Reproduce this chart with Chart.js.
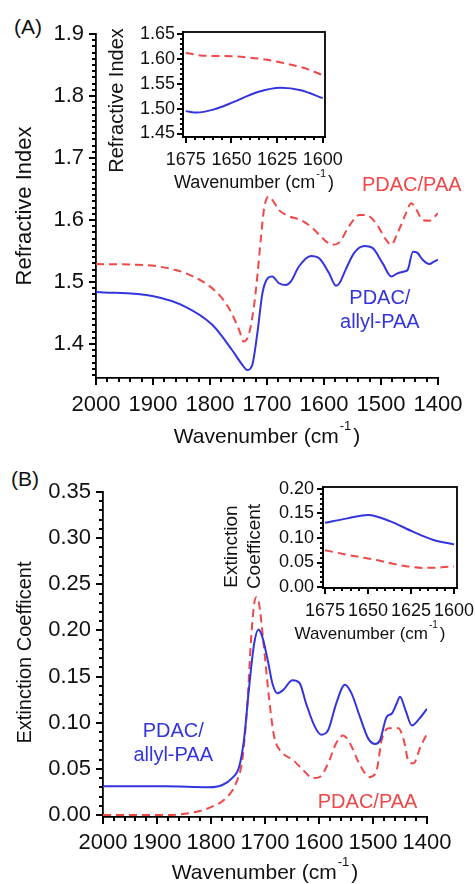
<!DOCTYPE html>
<html>
<head>
<meta charset="utf-8">
<script src="https://cdn.jsdelivr.net/npm/chart.js@4"></script>
<style>
  body { margin: 0; background: #fff; width: 475px; height: 884px; position: relative; overflow: hidden;
         font-family: 'Liberation Sans', Arial, Helvetica, sans-serif; }
  canvas { position: absolute; }
  .tag { position: absolute; font-size: 21px; color: #111; line-height: 22px; }
</style>
</head>
<body>
<div class="tag" style="left:14px;top:16px">(A)</div>
<div class="tag" style="left:11px;top:468px">(B)</div>
<canvas id="mainA" width="475" height="460" style="left:0;top:0"></canvas>
<canvas id="insetA" width="270" height="200" style="left:90px;top:0"></canvas>
<canvas id="mainB" width="475" height="434" style="left:0;top:450px"></canvas>
<canvas id="insetB" width="265" height="190" style="left:210px;top:460px"></canvas>
<script>
// (A) refractive index, PDAC/allyl-PAA (blue) and PDAC/PAA (red)
const aBlueWn = [2000, 1899, 1843, 1796, 1761, 1743, 1735, 1726, 1717, 1708, 1699, 1691, 1679, 1667, 1658, 1644, 1623, 1608, 1591, 1579, 1573, 1562, 1547, 1529, 1515, 1497, 1482, 1471, 1459, 1453, 1444, 1436, 1427, 1415, 1407, 1400];
const aBlueN = [1.484, 1.477, 1.460, 1.431, 1.390, 1.366, 1.358, 1.366, 1.417, 1.482, 1.506, 1.509, 1.498, 1.495, 1.501, 1.525, 1.542, 1.538, 1.514, 1.494, 1.498, 1.520, 1.547, 1.558, 1.555, 1.530, 1.509, 1.514, 1.517, 1.520, 1.549, 1.547, 1.536, 1.529, 1.533, 1.536];
const aRedWn = [2000, 1937, 1890, 1837, 1790, 1767, 1749, 1741, 1732, 1723, 1717, 1711, 1705, 1697, 1691, 1679, 1661, 1641, 1620, 1603, 1585, 1573, 1556, 1538, 1526, 1509, 1491, 1482, 1471, 1456, 1447, 1438, 1427, 1415, 1400];
const aRedN = [1.529, 1.528, 1.525, 1.512, 1.485, 1.458, 1.423, 1.404, 1.415, 1.460, 1.509, 1.568, 1.619, 1.638, 1.633, 1.616, 1.606, 1.600, 1.587, 1.571, 1.560, 1.564, 1.590, 1.608, 1.608, 1.595, 1.568, 1.560, 1.579, 1.611, 1.627, 1.617, 1.600, 1.599, 1.611];

// (A) inset, 1675-1600 cm-1
const aInBlueWn = [1675, 1669, 1660, 1649, 1636, 1623, 1612, 1600];
const aInBlueN = [1.495, 1.492, 1.498, 1.513, 1.533, 1.542, 1.537, 1.521];
const aInRedWn = [1675, 1667, 1649, 1634, 1622, 1616, 1608, 1600];
const aInRedN = [1.612, 1.607, 1.605, 1.600, 1.592, 1.587, 1.579, 1.567];

// (B) extinction coefficient
const bBlueWn = [2000, 1947, 1885, 1804, 1779, 1761, 1748, 1739, 1730, 1720, 1712, 1705, 1695, 1686, 1677, 1667, 1649, 1636, 1624, 1608, 1596, 1583, 1568, 1552, 1540, 1524, 1509, 1496, 1487, 1475, 1465, 1456, 1450, 1440, 1428, 1416, 1400];
const bBlueK = [0.031, 0.031, 0.031, 0.030, 0.0325, 0.040, 0.052, 0.081, 0.135, 0.186, 0.201, 0.193, 0.168, 0.142, 0.132, 0.135, 0.146, 0.143, 0.121, 0.096, 0.087, 0.092, 0.121, 0.141, 0.132, 0.106, 0.083, 0.077, 0.081, 0.106, 0.110, 0.121, 0.128, 0.114, 0.097, 0.103, 0.115];
const bRedWn = [2000, 1885, 1835, 1798, 1773, 1754, 1742, 1733, 1726, 1720, 1716, 1711, 1702, 1692, 1683, 1667, 1649, 1630, 1611, 1599, 1583, 1568, 1555, 1543, 1524, 1506, 1493, 1484, 1471, 1453, 1443, 1434, 1425, 1412, 1400];
const bRedK = [0.000, 0.000, 0.0025, 0.009, 0.018, 0.034, 0.060, 0.117, 0.189, 0.229, 0.236, 0.229, 0.182, 0.124, 0.085, 0.067, 0.060, 0.049, 0.040, 0.041, 0.056, 0.078, 0.086, 0.078, 0.054, 0.041, 0.049, 0.081, 0.094, 0.094, 0.081, 0.058, 0.056, 0.074, 0.088];

// (B) inset
const bInBlueWn = [1675, 1662, 1650, 1637, 1624, 1612, 1600];
const bInBlueK = [0.131, 0.140, 0.147, 0.134, 0.113, 0.096, 0.087];
const bInRedWn = [1675, 1661, 1645, 1632, 1618, 1608, 1600];
const bInRedK = [0.075, 0.065, 0.055, 0.045, 0.039, 0.040, 0.042];

const FONT = "'Liberation Sans', Arial, Helvetica, sans-serif";
const BLUE = '#3434de';
const RED = '#f04848';
const INK = '#111';

function pts(xs, ys) {
    return xs.map((x, i) => ({ x: x, y: ys[i] }));
}

function lineSet(label, xs, ys, color, dashed) {
    return {
        label: label,
        data: pts(xs, ys),
        borderColor: color,
        borderWidth: 2,
        borderDash: dashed ? [8, 5] : [],
        pointRadius: 0,
        cubicInterpolationMode: 'monotone',
        fill: false
    };
}

// ruler ticks: long ones at the labelled values, short ones in between
const rulerTicks = {
    id: 'rulerTicks',
    afterDraw(chart, args, opts) {
        const ctx = chart.ctx;
        ctx.save();
        ctx.strokeStyle = '#000';
        ctx.lineWidth = 2;
        ['x', 'y'].forEach(id => {
            const s = chart.scales[id];
            const step = opts[id];
            const major = s.options.ticks.stepSize;
            const n0 = Math.ceil(s.min / step - 1e-6);
            const n1 = Math.floor(s.max / step + 1e-6);
            for (let i = n0; i <= n1; i++) {
                const v = i * step;
                const r = v / major;
                const len = Math.abs(r - Math.round(r)) < 1e-6 ? opts.major : opts.minor;
                const p = Math.round(s.getPixelForValue(v));
                ctx.beginPath();
                if (id === 'x') {
                    ctx.moveTo(p, s.top);
                    ctx.lineTo(p, s.top + len);
                } else {
                    ctx.moveTo(s.right, p);
                    ctx.lineTo(s.right - len, p);
                }
                ctx.stroke();
            }
        });
        ctx.restore();
    }
};

// axis titles, x title gets a superscript
const axisTitles = {
    id: 'axisTitles',
    afterDraw(chart, args, opts) {
        const ctx = chart.ctx;
        const area = chart.chartArea;
        ctx.save();
        ctx.fillStyle = INK;
        ctx.textBaseline = 'middle';
        const xt = opts.x;
        const big = xt.size + 'px ' + FONT;
        const small = Math.round(xt.size * 0.6) + 'px ' + FONT;
        ctx.font = big;
        const w1 = ctx.measureText(xt.text).width;
        const w3 = ctx.measureText(xt.tail).width;
        ctx.font = small;
        const w2 = ctx.measureText(xt.sup).width + 3;
        const x0 = (area.left + area.right) / 2 + xt.dx - (w1 + w2 + w3) / 2;
        const y0 = area.bottom + xt.dy;
        ctx.textAlign = 'left';
        ctx.font = big;
        ctx.fillText(xt.text, x0, y0);
        ctx.font = small;
        ctx.fillText(xt.sup, x0 + w1 + 1, y0 - xt.size * 0.5);
        ctx.font = big;
        ctx.fillText(xt.tail, x0 + w1 + w2, y0);
        const yt = opts.y;
        ctx.font = yt.size + 'px ' + FONT;
        ctx.textAlign = 'center';
        yt.lines.forEach((line, i) => {
            ctx.save();
            ctx.translate(area.left - yt.dx[i], (area.top + area.bottom) / 2 + yt.dy);
            ctx.rotate(-Math.PI / 2);
            ctx.fillText(line, 0, 0);
            ctx.restore();
        });
        ctx.restore();
    }
};

// series names written next to the curves
const textLabels = {
    id: 'textLabels',
    afterDraw(chart, args, opts) {
        const ctx = chart.ctx;
        ctx.save();
        ctx.textAlign = 'center';
        ctx.textBaseline = 'middle';
        (opts.items || []).forEach(t => {
            ctx.font = t.size + 'px ' + FONT;
            ctx.fillStyle = t.color;
            ctx.fillText(t.text, chart.scales.x.getPixelForValue(t.x), chart.scales.y.getPixelForValue(t.y));
        });
        ctx.restore();
    }
};

// closed box for the insets
const frame = {
    id: 'frame',
    afterDraw(chart, args, opts) {
        if (!opts.box) return;
        const a = chart.chartArea;
        const ctx = chart.ctx;
        ctx.save();
        ctx.strokeStyle = '#000';
        ctx.lineWidth = 1.8;
        ctx.strokeRect(a.left, a.top, a.right - a.left, a.bottom - a.top);
        ctx.restore();
    }
};

function noPad(s) {
    s.paddingLeft = 0;
    s.paddingRight = 0;
    s.paddingTop = 0;
    s.paddingBottom = 0;
}

function makeChart(id, c) {
    return new Chart(document.getElementById(id), {
        type: 'line',
        data: { datasets: c.datasets },
        options: {
            responsive: false,
            animation: false,
            layout: { padding: { left: 0, right: c.padRight, top: c.padTop, bottom: 0 } },
            plugins: {
                legend: { display: false },
                tooltip: { enabled: false },
                rulerTicks: { x: c.xMinor, y: c.yMinor, major: c.tick, minor: c.minorLen },
                axisTitles: c.titles,
                textLabels: { items: c.labels || [] },
                frame: { box: !!c.box }
            },
            scales: {
                x: {
                    type: 'linear',
                    reverse: true,
                    min: c.xMin,
                    max: c.xMax,
                    afterFit: s => { s.height = c.xH; noPad(s); },
                    border: { color: '#000', width: 1.8 },
                    grid: { drawOnChartArea: false, drawTicks: true, color: 'rgba(0,0,0,0)', tickLength: c.tick },
                    ticks: {
                        stepSize: c.xStep, includeBounds: false, autoSkip: false, maxRotation: 0,
                        padding: c.xPad, color: INK, font: { family: FONT, size: c.font },
                        callback: v => Math.round(v)
                    }
                },
                y: {
                    type: 'linear',
                    min: c.yMin,
                    max: c.yMax,
                    afterFit: s => { s.width = c.yW; noPad(s); },
                    border: { color: '#000', width: 1.8 },
                    grid: { drawOnChartArea: false, drawTicks: true, color: 'rgba(0,0,0,0)', tickLength: c.tick },
                    ticks: {
                        stepSize: c.yStep, includeBounds: false, autoSkip: false,
                        padding: c.yPad, color: INK, font: { family: FONT, size: c.font },
                        callback: v => v.toFixed(c.yDec)
                    }
                }
            }
        },
        plugins: [rulerTicks, axisTitles, textLabels, frame]
    });
}

makeChart('mainA', {
    datasets: [
        lineSet('PDAC/allyl-PAA', aBlueWn, aBlueN, BLUE, false),
        lineSet('PDAC/PAA', aRedWn, aRedN, RED, true)
    ],
    padRight: 37, padTop: 34, xH: 82, yW: 96,
    xMin: 1400, xMax: 2000, xStep: 100, xMinor: 20,
    yMin: 1.3452, yMax: 1.9, yStep: 0.1, yMinor: 0.01, yDec: 1,
    tick: 7, minorLen: 4, font: 22, xPad: 7, yPad: 5,
    titles: {
        x: { text: 'Wavenumber (cm', sup: '-1', tail: ')', size: 21, dx: 0, dy: 59 },
        y: { lines: ['Refractive Index'], dx: [71], dy: 0, size: 22 }
    },
    labels: [
        { text: 'PDAC/PAA', x: 1446, y: 1.656, color: RED, size: 20 },
        { text: 'PDAC/', x: 1502, y: 1.474, color: BLUE, size: 20 },
        { text: 'allyl-PAA', x: 1502, y: 1.435, color: BLUE, size: 20 }
    ]
});

makeChart('insetA', {
    datasets: [
        lineSet('PDAC/allyl-PAA', aInBlueWn, aInBlueN, BLUE, false),
        lineSet('PDAC/PAA', aInRedWn, aInRedN, RED, true)
    ],
    padRight: 35, padTop: 32, xH: 63, yW: 93,
    xMin: 1598.8, xMax: 1676.5, xStep: 25, xMinor: 5,
    yMin: 1.443, yMax: 1.654, yStep: 0.05, yMinor: 0.01, yDec: 2,
    tick: 6, minorLen: 3, font: 18, xPad: 6, yPad: 2,
    box: true,
    titles: {
        x: { text: 'Wavenumber (cm', sup: '-1', tail: ')', size: 18, dx: 0, dy: 46 },
        y: { lines: ['Refractive Index'], dx: [66], dy: 16, size: 20 }
    }
});

makeChart('mainB', {
    datasets: [
        lineSet('PDAC/allyl-PAA', bBlueWn, bBlueK, BLUE, false),
        lineSet('PDAC/PAA', bRedWn, bRedK, RED, true)
    ],
    padRight: 48, padTop: 42, xH: 67, yW: 103,
    xMin: 1400, xMax: 2000, xStep: 100, xMinor: 20,
    yMin: -0.0022, yMax: 0.35, yStep: 0.05, yMinor: 0.01, yDec: 2,
    tick: 7, minorLen: 4, font: 22, xPad: 6, yPad: 5,
    titles: {
        x: { text: 'Wavenumber (cm', sup: '-1', tail: ')', size: 21, dx: 0, dy: 56 },
        y: { lines: ['Extinction Coefficent'], dx: [78], dy: -2, size: 20 }
    },
    labels: [
        { text: 'PDAC/', x: 1870, y: 0.090, color: BLUE, size: 20 },
        { text: 'allyl-PAA', x: 1870, y: 0.065, color: BLUE, size: 20 },
        { text: 'PDAC/PAA', x: 1510, y: 0.014, color: RED, size: 20 }
    ]
});

makeChart('insetB', {
    datasets: [
        lineSet('PDAC/allyl-PAA', bInBlueWn, bInBlueK, BLUE, false),
        lineSet('PDAC/PAA', bInRedWn, bInRedK, RED, true)
    ],
    padRight: 18, padTop: 27, xH: 62, yW: 113,
    xMin: 1598.3, xMax: 1676.2, xStep: 25, xMinor: 5,
    yMin: -0.002, yMax: 0.204, yStep: 0.05, yMinor: 0.01, yDec: 2,
    tick: 6, minorLen: 3, font: 18, xPad: 6, yPad: 3,
    box: true,
    titles: {
        x: { text: 'Wavenumber (cm', sup: '-1', tail: ')', size: 17, dx: -20, dy: 46 },
        y: { lines: ['Extinction', 'Coefficent'], dx: [91, 68], dy: 9, size: 19 }
    }
});
</script>
</body>
</html>
